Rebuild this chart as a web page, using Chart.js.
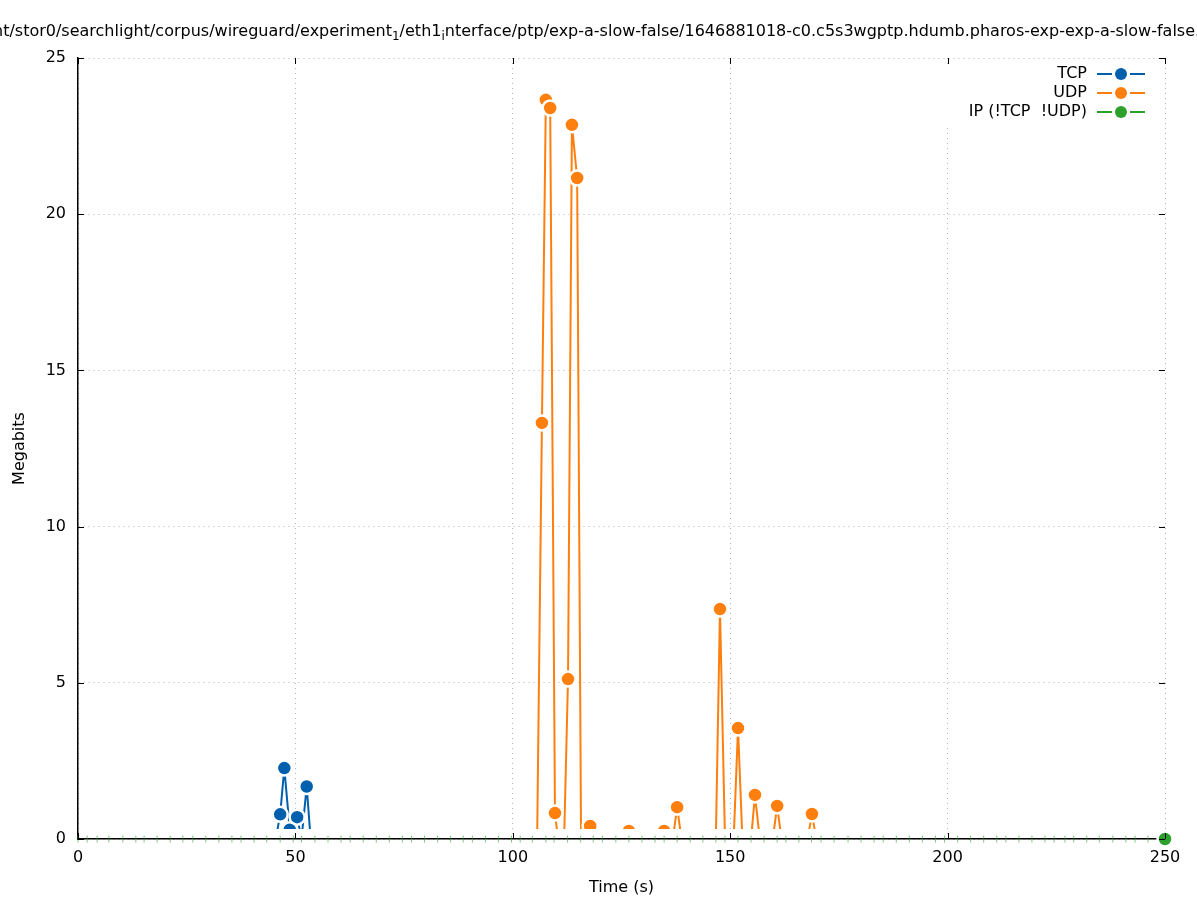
<!DOCTYPE html>
<html>
<head>
<meta charset="utf-8">
<title>ptp traffic</title>
<script src="https://cdn.jsdelivr.net/npm/chart.js@4/dist/chart.umd.min.js"></script>
<style>
    html, body { margin: 0; padding: 0; background: #fff; }
</style>
</head>
<body>
<canvas id="myChart" width="1197" height="900"></canvas>
<script>
// sample times (s) and throughput (Megabits) per protocol
const tcpTime = [45.5, 46.5, 47.45, 48.7, 49.5, 50.4, 51.4, 52.6, 53.5];
const tcpMbit = [0, 0.79, 2.27, 0.3, 0, 0.7, 0, 1.68, 0];

const udpTime = [105.6, 106.7, 107.6, 108.6, 109.7, 110.4, 111.8, 112.7, 113.6, 114.8, 115.7,
    117.8, 118.6, 125.7, 126.7, 127.7, 133.8, 134.8, 135.8, 136.8, 137.8, 138.8, 146.7, 147.65,
    148.8, 150.8, 151.8, 152.8, 154.8, 155.7, 156.8, 159.8, 160.8, 161.8, 167.8, 168.8, 169.8];
const udpMbit = [0, 13.32, 23.66, 23.4, 0.83, 0, 0, 5.12, 22.86, 21.16, 0,
    0.42, 0, 0, 0.26, 0, 0, 0.26, 0, 0, 1.02, 0, 0, 7.36,
    0, 0, 3.55, 0, 0, 1.41, 0, 0, 1.06, 0, 0, 0.8, 0];

const ipTime = [0, 2.1, 4.4, 7.1, 10.3, 13.3, 15.2, 18.2, 21.2, 24.1, 26.4, 29.4, 32.4, 35.4,
    37.5, 40.5, 43.4, 46.5, 49.5, 51.4, 54.5, 57.5, 60.5, 62.6, 65.6, 68.6, 71.6, 74.6, 76.7,
    79.7, 82.7, 85.7, 88.6, 90.7, 93.7, 96.7, 99.7, 101.7, 104.5, 107.6, 109.5, 112.6, 115.6,
    118.5, 120.6, 123.7, 126.7, 129.7, 132.7, 134.8, 137.8, 140.8, 143.7, 146.7, 148.8, 151.8,
    154.8, 157.8, 160.8, 162.8, 165.8, 168.7, 170.9, 173.9, 177.1, 180.1, 183.1, 185.2, 188.2,
    191.2, 194.2, 197.2, 199.3, 202.3, 205.3, 208.3, 211.3, 213.4, 216.4, 219.4, 222.4, 224.5,
    227.0, 229.0, 232.0, 234.9, 238.0, 241.0, 243.1, 246.1, 250];
const ipMbit = [0, 0, 0, 0, 0, 0, 0, 0, 0, 0, 0, 0, 0, 0,
    0, 0, 0, 0, 0, 0, 0, 0, 0, 0, 0, 0, 0, 0, 0,
    0, 0, 0, 0, 0, 0, 0, 0, 0, 0, 0, 0, 0, 0,
    0, 0, 0, 0, 0, 0, 0, 0, 0, 0, 0, 0, 0,
    0, 0, 0, 0, 0, 0, 0, 0, 0, 0, 0, 0, 0,
    0, 0, 0, 0, 0, 0, 0, 0, 0, 0, 0, 0, 0,
    0, 0, 0, 0, 0, 0, 0, 0, 0, 0];

const seriesNames = ["TCP", "UDP", "IP (!TCP  !UDP)"];
const seriesColors = ["#0060ad", "#ff7f0e", "#2ca02c"];

const xTicks = [0, 50, 100, 150, 200, 250];
const yTicks = [0, 5, 10, 15, 20, 25];

const titleParts = [
    ["/mnt/stor0/searchlight/corpus/wireguard/experiment", false],
    ["1", true],
    ["/eth1", false],
    ["i", true],
    ["nterface/ptp/exp-a-slow-false/1646881018-c0.c5s3wgptp.hdumb.pharos-exp-exp-a-slow-false.pcap", false],
];

const FONT = "DejaVu Sans";

const toPts = (xs, ys) => xs.map((x, i) => ({ x: x, y: ys[i] }));

const peakDataset = (i, xs, ys) => ({
    label: seriesNames[i],
    data: toPts(xs, ys),
    showLine: true,
    borderColor: seriesColors[i],
    backgroundColor: seriesColors[i],
    borderWidth: 2,
    pointRadius: (c) => (c.raw && c.raw.y === 0 ? 0 : 7.5),
    pointBorderColor: "#fff",
    pointBorderWidth: 2.5,
    pointBackgroundColor: seriesColors[i],
    clip: { left: 10, top: 10, right: 10, bottom: -10 },
});

const lastIp = ipTime.length - 1;

// inward ticks on all four sides, legend and title drawn by hand
const extras = {
    id: "extras",
    afterDraw(chart) {
        const c = chart.ctx;
        const a = chart.chartArea;
        const xs = chart.scales.x, ys = chart.scales.y;

        // legend box
        c.save();
        c.fillStyle = "#fff";
        c.fillRect(945, 64, 218, 61);

        c.strokeStyle = "#000";
        c.lineWidth = 1;
        c.beginPath();
        yTicks.forEach((v) => {
            const y = Math.round(ys.getPixelForValue(v)) + 0.5;
            c.moveTo(a.left, y); c.lineTo(a.left + 6, y);
            c.moveTo(a.right, y); c.lineTo(a.right - 6, y);
        });
        xTicks.forEach((v) => {
            const x = Math.round(xs.getPixelForValue(v)) + 0.5;
            c.moveTo(x, a.bottom); c.lineTo(x, a.bottom - 6);
            c.moveTo(x, a.top); c.lineTo(x, a.top + 6);
        });
        c.stroke();

        c.font = "16px '" + FONT + "'";
        c.textAlign = "right";
        c.textBaseline = "middle";
        seriesNames.forEach((name, i) => {
            const y = 74 + 19 * i;
            c.fillStyle = "#000";
            c.fillText(name, 1087, y);
            c.strokeStyle = seriesColors[i];
            c.lineWidth = 2;
            c.beginPath();
            c.moveTo(1097, y); c.lineTo(1112, y);
            c.moveTo(1130, y); c.lineTo(1145, y);
            c.stroke();
            c.beginPath();
            c.arc(1121, y, 6, 0, Math.PI * 2);
            c.fillStyle = seriesColors[i];
            c.fill();
        });

        // title with gnuplot-style subscripts
        c.textAlign = "left";
        c.textBaseline = "alphabetic";
        c.fillStyle = "#000";
        c.font = "16px '" + FONT + "'";
        let x = -7 - c.measureText("/m").width;
        titleParts.forEach(([txt, sub]) => {
            c.font = (sub ? "12px '" : "16px '") + FONT + "'";
            c.fillText(txt, x, sub ? 40 : 36);
            x += c.measureText(txt).width;
        });
        c.restore();
    },
};

const ctx = document.getElementById("myChart");

new Chart(ctx, {
    type: "scatter",
    data: {
        datasets: [
            peakDataset(0, tcpTime, tcpMbit),
            peakDataset(1, udpTime, udpMbit),
            {
                label: seriesNames[2],
                data: toPts(ipTime, ipMbit),
                showLine: false,
                borderColor: seriesColors[2],
                backgroundColor: seriesColors[2],
                pointStyle: (c) => (c.dataIndex === lastIp ? "circle" : "line"),
                rotation: (c) => (c.dataIndex === lastIp ? 0 : 90),
                pointRadius: (c) => (c.dataIndex === lastIp ? 7.5 : 3.5),
                pointBorderWidth: (c) => (c.dataIndex === lastIp ? 2.5 : 1),
                pointBorderColor: (c) => (c.dataIndex === lastIp ? "#fff" : "rgba(44,160,44,0.6)"),
                pointBackgroundColor: seriesColors[2],
                clip: false,
            },
        ],
    },
    options: {
        responsive: false,
        animation: false,
        events: [],
        layout: { padding: { top: 58, right: 32, left: 0, bottom: 0 } },
        plugins: {
            legend: { display: false },
            tooltip: { enabled: false },
        },
        scales: {
            x: {
                type: "linear",
                min: 0,
                max: 250,
                afterFit: (s) => { s.height = 61; },
                afterBuildTicks: (s) => { s.ticks = xTicks.map((v) => ({ value: v })); },
                ticks: { color: "#000", padding: 9, font: { family: FONT, size: 16 }, maxRotation: 0 },
                grid: { color: "#b4b4b4", drawTicks: false },
                border: { color: "#000", width: 1.5, dash: [1, 4] },
                title: { display: true, text: "Time (s)", color: "#000", font: { family: FONT, size: 16 }, padding: { top: 4, bottom: 3 } },
            },
            y: {
                type: "linear",
                min: 0,
                max: 25,
                afterFit: (s) => { s.width = 78; },
                afterBuildTicks: (s) => { s.ticks = yTicks.map((v) => ({ value: v })); },
                ticks: { color: "#000", padding: 12, font: { family: FONT, size: 16 } },
                grid: { color: "#b4b4b4", drawTicks: false },
                border: { color: "#000", width: 1.5, dash: [1, 4] },
                title: { display: true, text: "Megabits", color: "#000", font: { family: FONT, size: 16 }, padding: { top: 10, bottom: 4 } },
            },
        },
    },
    plugins: [extras],
});
</script>
</body>
</html>
